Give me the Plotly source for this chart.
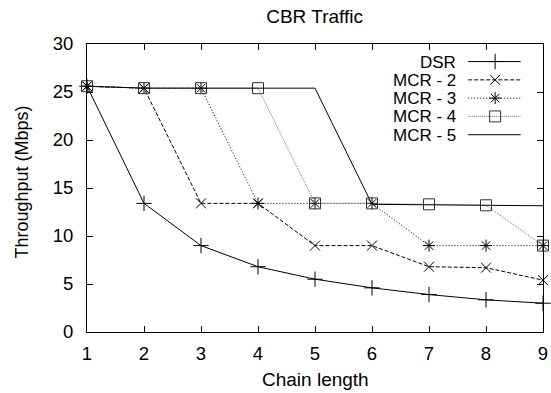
import plotly.graph_objects as go

chain_length = [1, 2, 3, 4, 5, 6, 7, 8, 9]
dsr = [25.6, 13.4, 9.0, 6.8, 5.5, 4.6, 3.9, 3.35, 3.0]
mcr2 = [25.6, 25.4, 13.4, 13.4, 9.0, 9.0, 6.8, 6.7, 5.4]
mcr3 = [25.6, 25.4, 25.4, 13.4, 13.4, 13.4, 9.0, 9.0, 9.0]
mcr4 = [25.6, 25.4, 25.4, 25.4, 13.4, 13.4, 13.3, 13.2, 9.0]
mcr5 = [25.6, 25.4, 25.4, 25.4, 25.4, 13.3, 13.25, 13.2, 13.15]
series_names = ["DSR", "MCR - 2", "MCR - 3", "MCR - 4", "MCR - 5"]
title_text = "CBR Traffic"
x_title = "Chain length"
y_title = "Throughput (Mbps)"

FONT = "Liberation Sans, Arial, sans-serif"
styles = [
    dict(dash="solid", color="#000000", symbol="cross-thin-open", msize=11, mcolor="#000000"),
    dict(dash="4px,2px", color="#000000", symbol="x-thin-open", msize=10, mcolor="#000000"),
    dict(dash="1px,2px", color="#000000", symbol="asterisk-open", msize=10, mcolor="#000000"),
    dict(dash="1px,1px", color="#777777", symbol="square-open", msize=11, mcolor="#333333"),
    dict(dash="solid", color="#000000", symbol=None, msize=0, mcolor="#000000"),
]
values = [dsr, mcr2, mcr3, mcr4, mcr5]

fig = go.Figure()
for name, ys, st in zip(series_names, values, styles):
    fig.add_trace(go.Scatter(
        x=chain_length, y=ys, name=name,
        mode="lines+markers" if st["symbol"] else "lines",
        line=dict(color=st["color"], width=1, dash=st["dash"]),
        marker=dict(symbol=st["symbol"] or "circle", size=st["msize"],
                    color=st["mcolor"], line=dict(width=1, color=st["mcolor"])),
        showlegend=False, cliponaxis=False,
    ))

# custom gnuplot-style key (text on left, sample on right)
KEY_TEXT_X = 0.811
KEY_LINE_X0 = 0.836
KEY_LINE_X1 = 0.951
KEY_MARK_X = 0.895
KEY_TOP = 0.939
KEY_STEP = 0.0635
for i, (name, st) in enumerate(zip(series_names, styles)):
    ky = KEY_TOP - i * KEY_STEP
    fig.add_trace(go.Scatter(
        x=[KEY_LINE_X0, KEY_LINE_X1], y=[ky, ky], mode="lines",
        line=dict(color=st["color"], width=1, dash=st["dash"]),
        xaxis="x2", yaxis="y2", showlegend=False, hoverinfo="skip", cliponaxis=False,
    ))
    if st["symbol"]:
        fig.add_trace(go.Scatter(
            x=[KEY_MARK_X], y=[ky], mode="markers",
            marker=dict(symbol=st["symbol"], size=st["msize"], color=st["mcolor"],
                        line=dict(width=1, color=st["mcolor"])),
            xaxis="x2", yaxis="y2", showlegend=False, hoverinfo="skip", cliponaxis=False,
        ))
    fig.add_annotation(x=KEY_TEXT_X, y=ky, xref="paper", yref="paper",
                       text=name, showarrow=False, xanchor="right", yanchor="middle",
                       height=16, borderpad=0, valign="middle",
                       font=dict(family=FONT, size=17, color="black"))

# axis titles placed as annotations (gnuplot-like positions)
fig.add_annotation(x=0.5, y=-0.1646, xref="paper", yref="paper", text=x_title,
                   showarrow=False, xanchor="center", yanchor="middle",
                   font=dict(family=FONT, size=19, color="black"))
fig.add_annotation(x=-0.1432, y=0.5217, xref="paper", yref="paper", text=y_title,
                   showarrow=False, xanchor="center", yanchor="middle", textangle=-90,
                   font=dict(family=FONT, size=18, color="black"))

axis_common = dict(
    showgrid=False, zeroline=False, showline=True, linecolor="black", linewidth=1,
    mirror="allticks", ticks="inside", ticklen=6, tickcolor="black", tickwidth=1,
    tickfont=dict(family=FONT, size=18.5, color="black"), automargin=False,
)
fig.update_layout(
    width=551, height=393,
    margin=dict(l=87, r=8, t=44, b=61),
    paper_bgcolor="white", plot_bgcolor="white",
    font=dict(family=FONT, color="black"),
    title=dict(text=title_text, x=0.571, xanchor="center", y=1 - 16 / 393, yanchor="middle",
               font=dict(family=FONT, size=19, color="black")),
    xaxis=dict(range=[1, 9], tickvals=chain_length, ticklabelstandoff=5, **axis_common),
    yaxis=dict(range=[0, 30], dtick=5, ticklabelstandoff=9, **axis_common),
    xaxis2=dict(overlaying="x", range=[0, 1], visible=False),
    yaxis2=dict(overlaying="y", range=[0, 1], visible=False),
    showlegend=False,
)
fig.write_html("out.html", config={"displayModeBar": False},
               post_script="document.body.style.margin='0';document.body.style.overflow='hidden';")
